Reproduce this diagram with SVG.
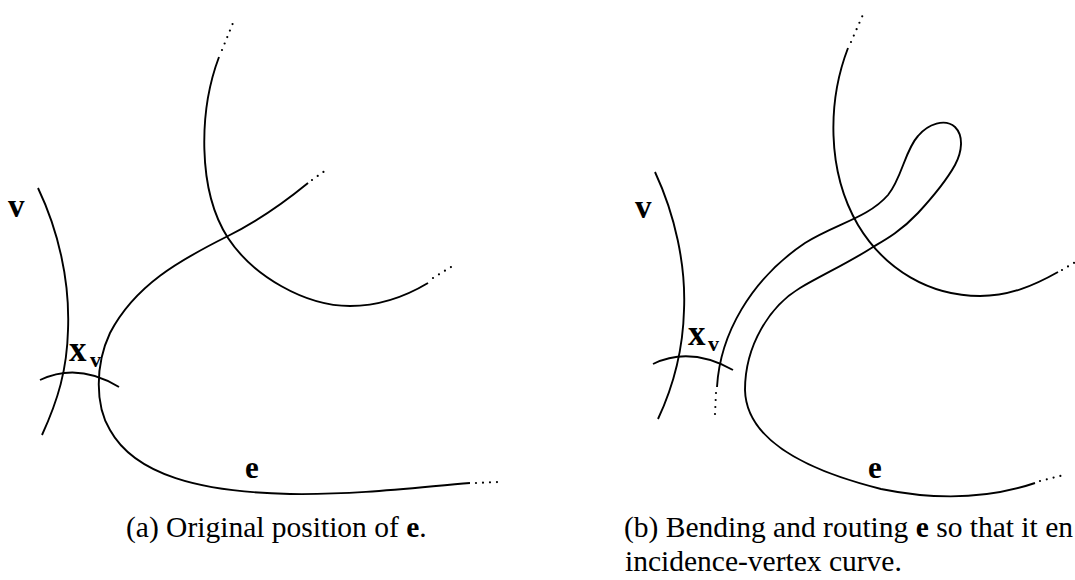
<svg xmlns="http://www.w3.org/2000/svg" width="1075" height="580" viewBox="0 0 1075 580">
<style>
.c{fill:none;stroke:#000;stroke-width:1.9;stroke-linecap:butt}
.d{fill:none;stroke:#000;stroke-width:2.2;stroke-linecap:round;stroke-dasharray:0 7}
.lb{font-family:"Liberation Serif","Times New Roman",serif;font-weight:bold;fill:#000}
.cap{font-family:"Liberation Serif","Times New Roman",serif;font-size:29.5px;fill:#000}
</style>
<rect width="1075" height="580" fill="#fff"/>
<g id="panel-a">
  <g id="a-vertex-curve">
    <path class="c" d="M38,188 C58,230 70,280 68,330 C67,370 58,400 42,435"/>
    <text class="lb" x="8" y="217" font-size="33">v</text>
  </g>
  <g id="a-incidence-arc">
    <path class="c" d="M40,380 Q78,362 119,387"/>
    <text class="lb" x="69" y="361" font-size="35">x</text>
    <text class="lb" x="90" y="367" font-size="22">v</text>
  </g>
  <g id="a-other-edge">
    <path class="c" d="M219,57 C199,110 197,190 228,238 C253,276 305,306 350,306 C380,306 408,295 428,283"/>
    <path class="d" d="M222,50 L235,18"/>
    <path class="d" d="M433,278 L451,267"/>
  </g>
  <g id="a-edge-e">
    <path class="c" d="M308,183 C275,210 250,225 228,236 C180,260 135,285 110,333 C95,365 95,405 110,430 C135,475 200,492 290,494 C360,495 420,487 470,483"/>
    <path class="d" d="M312,180 L329,168"/>
    <path class="d" d="M476,483 L498,482"/>
    <text class="lb" x="245" y="478" font-size="31">e</text>
  </g>
  <text id="a-caption" class="cap" x="126" y="537">(a) Original position of <tspan font-weight="bold">e</tspan>.</text>
</g>
<g id="panel-b">
  <g id="b-vertex-curve">
    <path class="c" d="M655,172 C675,215 686,265 684,310 C683,350 674,385 658,419"/>
    <text class="lb" x="635" y="218" font-size="33">v</text>
  </g>
  <g id="b-incidence-arc">
    <path class="c" d="M653,364 Q690,346 733,370"/>
    <text class="lb" x="688" y="345" font-size="35">x</text>
    <text class="lb" x="708" y="351" font-size="22">v</text>
  </g>
  <g id="b-other-edge">
    <path class="c" d="M848,48 C828,100 826,170 858,225 C885,270 930,296 980,296 C1010,296 1035,285 1058,272"/>
    <path class="d" d="M851,42 L865,10"/>
    <path class="d" d="M1062,270 L1082,258"/>
  </g>
  <g id="b-edge-e">
    <path class="c" d="M717,387 C720,335 750,280 805,243 C835,224 868,218 888,195 C902,178 905,150 918,136 C928,124 945,118 955,127 C964,136 962,152 955,165 C945,183 930,200 918,213 C900,232 885,240 873,247 C850,262 820,276 800,288 C770,306 745,345 745,390 C746,430 785,465 881,489 C930,499 985,500 1035,483"/>
    <path class="d" d="M716,393 L715,414"/>
    <path class="d" d="M1040,481 L1064,475"/>
    <text class="lb" x="868" y="478" font-size="31">e</text>
  </g>
  <g id="b-caption">
    <text class="cap" x="624" y="537">(b) Bending and routing <tspan font-weight="bold">e</tspan> so that it en</text>
    <text class="cap" x="625" y="571">incidence-vertex curve.</text>
  </g>
</g>
</svg>
